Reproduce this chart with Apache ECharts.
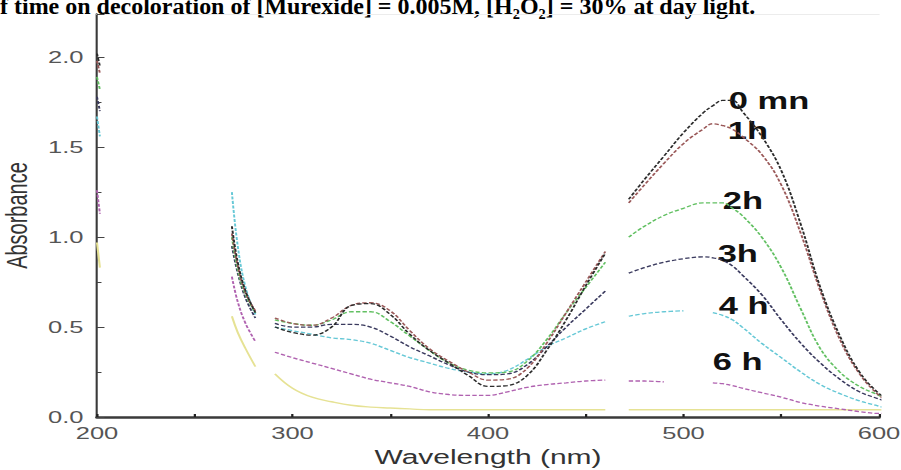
<!DOCTYPE html>
<html>
<head>
<meta charset="utf-8">
<script src="https://cdn.jsdelivr.net/npm/echarts@6/dist/echarts.min.js"></script>
<style>
html, body { margin: 0; padding: 0; overflow: hidden; background: #fff; }
/* the source figure is stretched sideways, so the chart is drawn narrow and widened */
#chart { width: 601px; height: 470px; transform: scaleX(1.499); transform-origin: 0 0; }
</style>
</head>
<body>
<div id="chart"></div>
<script>
// wavelengths (nm); null rows are where the scanned curves are blank
var wavelength = [200, 201.5, 235, 269, 272, 276, 281, 286,
  291, 300, 310, 320, 330, 340, 350, 360, 370, 380, 390, 400, 410, 420, 430, 440, 450, 460, 466,
  472, 480, 490, 500, 510, 515, 520, 525, 530, 540, 550, 560, 570, 580, 590, 600, 605];

var abs0mn = [2.02, 1.95, null, 1.06, 0.86, 0.70, 0.58, null,
  0.50, 0.47, 0.455, 0.50, 0.62, 0.63, 0.57, 0.46, 0.37, 0.30, 0.23, 0.17, 0.175, 0.23, 0.37, 0.54, 0.73, 0.91, null,
  1.21, 1.32, 1.45, 1.58, 1.69, 1.73, 1.76, 1.76, 1.70, 1.56, 1.37, 1.07, 0.72, 0.45, 0.25, 0.13, 0.10];
var abs1h = [1.98, 1.91, null, 1.02, 0.84, 0.69, 0.59, null,
  0.55, 0.52, 0.51, 0.55, 0.62, 0.635, 0.59, 0.48, 0.38, 0.31, 0.25, 0.205, 0.21, 0.27, 0.41, 0.58, 0.75, 0.92, null,
  1.19, 1.29, 1.41, 1.52, 1.60, 1.63, 1.62, 1.60, 1.56, 1.46, 1.29, 1.02, 0.70, 0.43, 0.24, 0.12, 0.09];
var abs2h = [1.89, 1.82, null, 1.00, 0.82, 0.68, 0.58, null,
  0.54, 0.52, 0.51, 0.54, 0.585, 0.585, 0.53, 0.45, 0.37, 0.30, 0.26, 0.245, 0.25, 0.31, 0.43, 0.58, 0.72, 0.86, null,
  1.00, 1.06, 1.12, 1.16, 1.19, 1.19, 1.19, 1.16, 1.12, 1.00, 0.83, 0.60, 0.38, 0.25, 0.17, 0.12, 0.09];
var abs3h = [1.78, 1.70, null, 0.95, 0.80, 0.66, 0.55, null,
  0.52, 0.50, 0.50, 0.515, 0.515, 0.50, 0.45, 0.39, 0.34, 0.29, 0.25, 0.235, 0.24, 0.29, 0.39, 0.50, 0.60, 0.70, null,
  0.80, 0.83, 0.86, 0.88, 0.89, 0.885, 0.87, 0.84, 0.79, 0.68, 0.54, 0.41, 0.30, 0.21, 0.14, 0.10, 0.08];
var abs4h = [1.67, 1.56, null, 1.25, 0.95, 0.72, 0.57, null,
  0.50, 0.48, 0.46, 0.44, 0.43, 0.41, 0.37, 0.33, 0.30, 0.27, 0.25, 0.24, 0.26, 0.32, 0.39, 0.44, 0.49, 0.53, null,
  0.56, 0.575, 0.585, 0.59, null, 0.58, 0.565, 0.54, 0.50, 0.41, 0.33, 0.25, 0.18, 0.13, 0.09, 0.06, 0.045];
var abs6h = [1.26, 1.13, null, 0.78, 0.64, 0.52, 0.42, null,
  0.36, 0.33, 0.30, 0.27, 0.24, 0.21, 0.19, 0.17, 0.14, 0.125, 0.12, 0.12, 0.14, 0.165, 0.18, 0.19, 0.20, 0.205, null,
  0.20, 0.20, 0.195, null, null, 0.19, 0.185, 0.175, 0.16, 0.135, 0.11, 0.08, 0.06, 0.045, 0.03, 0.02, 0.02];
var absLast = [0.97, 0.83, null, 0.56, 0.47, 0.38, 0.28, null,
  0.24, 0.16, 0.11, 0.085, 0.065, 0.055, 0.05, 0.045, 0.04, 0.04, 0.04, 0.04, 0.04, 0.04, 0.04, 0.04, 0.04, 0.04, null,
  0.04, 0.04, 0.04, 0.04, 0.04, 0.04, 0.04, 0.04, 0.04, 0.04, 0.04, 0.04, 0.04, 0.04, 0.04, 0.04, 0.035];

var curveNames = ['0 mn', '1h', '2h', '3h', '4 h', '6 h', 'last'];
var curveValues = [abs0mn, abs1h, abs2h, abs3h, abs4h, abs6h, absLast];
var curveColors = ['#2b2b2b', '#9a5858', '#62c062', '#3a3a5e', '#66c8d6', '#b062b0', '#e6e294'];
// where the curve labels sit [wavelength, absorbance]
var labelAt = [[522.8, 1.756], [522.3, 1.589], [519.7, 1.20], [517.1, 0.906], [517.6, 0.617], [514.6, 0.306], null];

var xTicks = [200, 300, 400, 500, 600];

var chartDom = document.getElementById('chart');
var myChart = echarts.init(chartDom, null, { renderer: 'svg' });

var series = [];
for (var i = curveNames.length - 1; i >= 0; i--) {
  var s = {
    name: curveNames[i],
    type: 'line',
    smooth: 0.4,
    showSymbol: false,
    clip: false,
    connectNulls: false,
    z: 10 - i,
    lineStyle: { color: curveColors[i], width: i == 6 ? 1.4 : 1.3, type: i == 6 ? 'solid' : [3, 1.5] },
    data: wavelength.map(function (w, k) {
      var v = curveValues[i][k];
      return [w, v == null ? '-' : v];
    })
  };
  if (labelAt[i]) {
    s.markPoint = {
      symbol: 'rect',
      symbolSize: 1,
      itemStyle: { color: 'rgba(0,0,0,0)' },
      label: {
        show: true,
        position: 'right',
        distance: 0,
        formatter: '{b}',
        color: '#111',
        fontFamily: 'Liberation Sans',
        fontWeight: 'bold',
        fontSize: 23
      },
      data: [{ name: curveNames[i], coord: labelAt[i] }]
    };
  }
  series.push(s);
}

var option = {
  animation: false,
  backgroundColor: '#fff',
  grid: { left: 64.7, right: 14.6, top: 14, bottom: 53, outerBoundsMode: 'none' },
  graphic: [
    {
      type: 'text',
      x: -8,
      y: 18,
      scaleX: 1 / 1.499,
      style: {
        text: 'of time on decoloration of [Murexide] = 0.005M, [H\u2082O\u2082] = 30% at day light.',
        font: 'bold 24px "Liberation Serif"',
        fill: '#000',
        textVerticalAlign: 'bottom'
      }
    }
  ],
  xAxis: [
    {
      type: 'value',
      min: xTicks[0],
      max: xTicks[xTicks.length - 1],
      interval: 100,
      name: 'Wavelength (nm)',
      nameLocation: 'middle',
      nameGap: 28,
      nameTextStyle: { fontFamily: 'Liberation Sans', fontSize: 20, color: '#333' },
      axisLine: { lineStyle: { color: '#3a3a3a', width: 2.5 } },
      axisTick: { inside: true, length: 3, lineStyle: { color: '#222', width: 1.5 } },
      minorTick: { show: true, splitNumber: 2, length: 3, lineStyle: { color: '#222', width: 1.5 } },
      axisLabel: { margin: 8, fontFamily: 'Liberation Sans', fontSize: 17, color: '#555' },
      splitLine: { show: false }
    },
    {
      type: 'value',
      position: 'top',
      min: xTicks[0],
      max: xTicks[xTicks.length - 1],
      axisLine: { lineStyle: { color: '#ececec', width: 1 } },
      axisTick: { show: false },
      axisLabel: { show: false },
      splitLine: { show: false }
    }
  ],
  yAxis: {
    type: 'value',
    min: 0,
    max: 2.24,
    interval: 0.5,
    name: 'Absorbance',
    nameLocation: 'middle',
    nameGap: 37,
    nameTextStyle: { fontFamily: 'Liberation Sans', fontSize: 20, color: '#333' },
    axisLine: { show: true, lineStyle: { color: '#3a3a3a', width: 1.4 } },
    axisTick: { inside: true, length: 5, lineStyle: { color: '#444', width: 1 } },
    minorTick: { show: true, splitNumber: 2, length: 3, lineStyle: { color: '#444', width: 1 } },
    axisLabel: {
      margin: 9, showMaxLabel: false, fontFamily: 'Liberation Sans', fontSize: 17, color: '#555',
      formatter: function (v) { return v.toFixed(1); }
    },
    splitLine: { show: false }
  },
  series: series
};

myChart.setOption(option);
</script>
</body>
</html>
